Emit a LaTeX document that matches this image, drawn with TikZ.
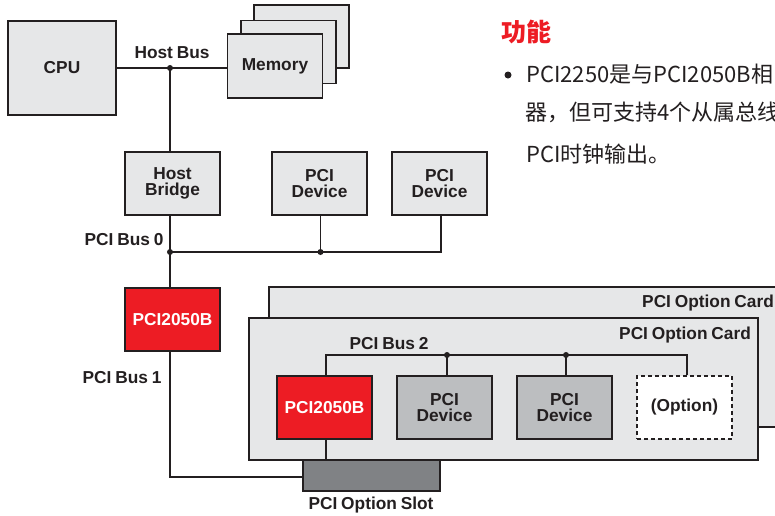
\documentclass[tikz,border=0pt]{standalone}
\usepackage{fontspec}
\setmainfont{Liberation Sans}
\newfontfamily\cjk{Noto Sans CJK SC}
\newcommand\lblfont{\fontsize{17.3}{16}\selectfont\bfseries\spaceskip=0.22em\relax}
\definecolor{boxgray}{HTML}{E6E7E8}
\definecolor{devgray}{HTML}{BCBEC0}
\definecolor{slotgray}{HTML}{808285}
\definecolor{tired}{HTML}{ED1C24}
\definecolor{ink}{HTML}{231F20}
\begin{document}
\begin{tikzpicture}[x=1pt,y=-1pt,
  lbl/.style={font=\lblfont, text=ink, align=center, inner sep=0pt},
  blk/.style={draw=ink, line width=1.2pt, fill=boxgray, minimum width=95pt, minimum height=63pt, inner sep=0pt, lbl},
  devbox/.style={blk, fill=devgray},
  redbox/.style={blk, fill=tired, text=white},
  optbox/.style={blk, fill=white, dashed, dash pattern=on 4pt off 3pt},
  wire/.style={draw=ink, line width=1.1pt},
  dot/.style={circle, fill=ink, inner sep=0pt, minimum size=6pt},
  zh/.style={anchor=base west, inner sep=0pt, text=ink, font=\cjk\fontsize{22}{22}\selectfont}]
\useasboundingbox (0,0) rectangle (775,515);
\fill[white] (0,0) rectangle (775,515);
% Host side
\node[blk, minimum width=108pt, minimum height=94pt] (cpu) at (62,68) {CPU};
\node[blk, minimum height=63pt] (mem3) at (301.5,36.5) {};
\node[blk, minimum height=63pt] (mem2) at (288.5,52) {};
\node[blk, minimum height=64pt] (mem) at (275,66) {Memory};
\node[blk] (hb) at (172.5,183.5) {Host\\Bridge};
\node[blk] (dev1) at (319.5,183.5) {PCI\\Device};
\node[blk] (dev2) at (439.5,183.5) {PCI\\Device};
\node[redbox] (br1) at (172.5,319.5) {PCI2050B};
% Option cards
\node[draw=ink, line width=1.2pt, fill=boxgray, minimum width=521pt, minimum height=140pt, inner sep=0pt] (card2) at (529.5,357) {};
\node[draw=ink, line width=1.2pt, fill=boxgray, minimum width=509pt, minimum height=142pt, inner sep=0pt] (card1) at (503.5,389) {};
\node[draw=ink, line width=1.2pt, fill=slotgray, minimum width=137pt, minimum height=31pt, inner sep=0pt] (slot) at (371.5,475.5) {};
\node[redbox] (br2) at (324.5,407.5) {PCI2050B};
\node[devbox] (dev3) at (444.5,407.5) {PCI\\Device};
\node[devbox] (dev4) at (564.5,407.5) {PCI\\Device};
\node[optbox] (opt) at (684.5,407.5) {(Option)};
% Bus points
\node[dot] (hbus) at (170,68) {};
\node[dot] (b0a) at (170,252) {};
\node[dot] (b0b) at (320.5,252) {};
\coordinate (b0c) at (441,252);
\coordinate (b1c) at (170,477);
\coordinate (b2a) at (326,355);
\node[dot] (b2b) at (447,355) {};
\node[dot] (b2c) at (566,355) {};
\coordinate (b2d) at (687,355);
% Wires
\draw[wire] (cpu.east |- hbus) -- (hbus.center) -- (mem.west |- hbus);
\draw[wire] (hbus.center) -- (hbus |- hb.north);
\draw[wire] (hbus |- hb.south) -- (b0a.center) -- (b0b.center) -- (b0c) -- (dev2.south -| b0c);
\draw[wire] (b0b.center) -- (b0b |- dev1.south);
\draw[wire] (b0a.center) -- (b0a |- br1.north);
\draw[wire] (b0a |- br1.south) -- (b1c) -- (slot.west |- b1c);
\draw[wire] (b2a |- br2.south) -- (b2a |- slot.north);
\draw[wire] (b2a |- br2.north) -- (b2a) -- (b2b.center) -- (b2c.center) -- (b2d) -- (b2d |- opt.north);
\draw[wire] (b2b.center) -- (b2b |- dev3.north);
\draw[wire] (b2c.center) -- (b2c |- dev4.north);
% Labels
\node[lbl] (lhb) at (172,53) {Host Bus};
\node[lbl] (l0) at (124,240) {PCI Bus 0};
\node[lbl] (l1) at (122,378) {PCI Bus 1};
\node[lbl] (l2) at (389,344) {PCI Bus 2};
\node[lbl, anchor=east] (lc2) at (774,303) {PCI Option Card};
\node[lbl, anchor=east] (lc1) at (751,335) {PCI Option Card};
\node[lbl] (ls) at (371,505) {PCI Option Slot};
% Chinese text
\node[anchor=base west, inner sep=0pt, text=tired, font=\cjk\bfseries\fontsize{25}{25}\selectfont] (title) at (501,41) {功能};
\node[circle, fill=ink, inner sep=0pt, minimum size=7pt] (bul) at (508,75) {};
\node[zh] (t1) at (526,82) {PCI2250是与PCI2050B相};
\node[zh] (t2) at (525,120) {器，但可支持4个从属总线};
\node[zh] (t3) at (526,162) {PCI时钟输出。};
\end{tikzpicture}
\end{document}
